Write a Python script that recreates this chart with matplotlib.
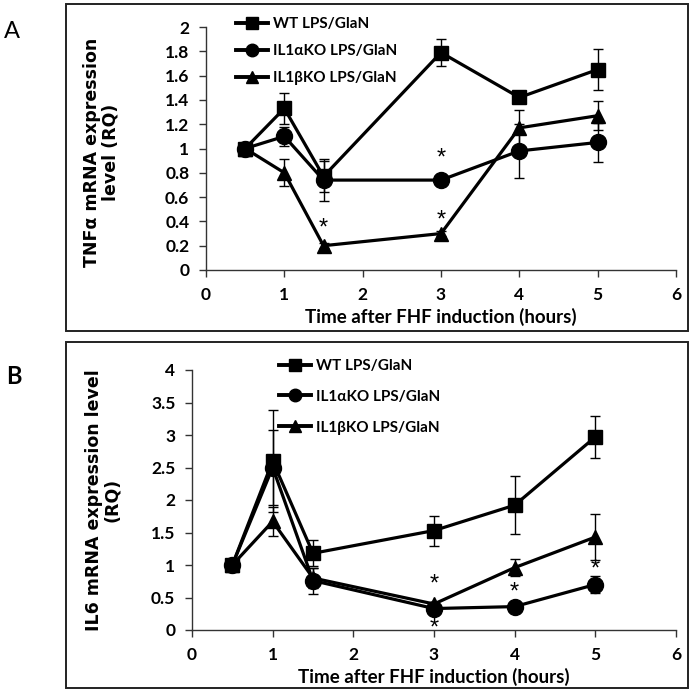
import matplotlib
matplotlib.use("Agg")
import matplotlib.pyplot as plt
from matplotlib.patches import Rectangle

plt.rcParams["font.family"] = ["Lato", "DejaVu Sans"]
plt.rcParams["font.weight"] = "bold"

# ---------------- data ----------------
hours = [0.5, 1, 1.5, 3, 4, 5]
series_labels = ["WT LPS/GlaN", "IL1\u03b1KO LPS/GlaN", "IL1\u03b2KO LPS/GlaN"]

tnf_wt = [1.0, 1.33, 0.77, 1.79, 1.42, 1.65]
tnf_wt_err = [0.03, 0.13, 0.13, 0.11, 0.03, 0.17]
tnf_a = [1.0, 1.10, 0.74, 0.74, 0.98, 1.05]
tnf_a_err = [0.03, 0.08, 0.17, 0.04, 0.22, 0.16]
tnf_b = [1.0, 0.80, 0.20, 0.30, 1.17, 1.27]
tnf_b_err = [0.03, 0.11, 0.02, 0.02, 0.15, 0.12]
tnf_star_x = [1.5, 3, 3]
tnf_star_y = [0.34, 0.92, 0.41]

il6_wt = [1.0, 2.60, 1.18, 1.53, 1.92, 2.97]
il6_wt_err = [0.05, 0.78, 0.20, 0.23, 0.45, 0.33]
il6_a = [1.0, 2.50, 0.76, 0.33, 0.36, 0.70]
il6_a_err = [0.05, 0.58, 0.20, 0.03, 0.03, 0.13]
il6_b = [1.0, 1.67, 0.80, 0.40, 0.96, 1.43]
il6_b_err = [0.05, 0.22, 0.15, 0.03, 0.13, 0.35]
il6_star_x = [3, 3, 4, 5]
il6_star_y = [0.70, 0.03, 0.57, 0.93]

xticks = [0, 1, 2, 3, 4, 5, 6]

W, H = 697, 699
fig = plt.figure(figsize=(W / 100, H / 100), dpi=100)

def fx(px):
    return px / W

def fy(py):
    return 1 - py / H

label_font = dict(family=["DejaVu Sans"], weight="bold", size=12.5)
xlabel_font = dict(family=["Lato", "DejaVu Sans"], weight="bold", size=13.5)

# panel boxes
for (x0, y0, x1, y1) in [(66, 4, 688, 331), (66, 342, 688, 688)]:
    fig.patches.append(Rectangle((fx(x0), fy(y1)), fx(x1) - fx(x0), fy(y0) - fy(y1),
                                 transform=fig.transFigure, fill=False,
                                 edgecolor="#222222", linewidth=1.4))

fig.text(fx(12), fy(31), "A", fontsize=17, weight="normal", va="center", ha="center")
fig.text(fx(14), fy(376), "B", fontsize=17, weight="bold", va="center", ha="center")

markers = ["s", "o", "^"]
msizes = [10, 11.5, 10]

def draw(ax, ys, errs, stars_x, stars_y, ylim, ystep, yticklabels, legend_px, lspace):
    handles = []
    for y, e, m, ms, lab in zip(ys, errs, markers, msizes, series_labels):
        ax.errorbar(hours, y, yerr=e, fmt="none", ecolor="black", elinewidth=1.0,
                    capsize=3.5, capthick=1.0, zorder=2)
        h, = ax.plot(hours, y, color="black", marker=m, markersize=ms, linewidth=2.3,
                     label=lab, zorder=3)
        handles.append(h)
    for sx, sy in zip(stars_x, stars_y):
        ax.text(sx, sy, "*", ha="center", va="center", fontsize=17, weight="normal",
                family=["Liberation Sans", "DejaVu Sans"])
    ax.set_xlim(0, 6)
    ax.set_ylim(*ylim)
    ax.set_xticks(xticks)
    ax.set_xticklabels([str(t) for t in xticks])
    yt = [round(ylim[0] + i * ystep, 2) for i in range(len(yticklabels))]
    ax.set_yticks(yt)
    ax.set_yticklabels(yticklabels)
    for s in ["top", "right"]:
        ax.spines[s].set_visible(False)
    for s in ["left", "bottom"]:
        ax.spines[s].set_linewidth(1.0)
        ax.spines[s].set_color("#333333")
    ax.tick_params(direction="out", length=5, width=1.0, pad=7, color="#333333",
                   labelsize=12.5)
    lx, ly = legend_px
    leg = ax.legend(handles=handles, loc="upper left",
                    bbox_to_anchor=(fx(lx), fy(ly)), bbox_transform=fig.transFigure,
                    frameon=False, handlelength=2.1, handletextpad=0.35,
                    labelspacing=lspace, borderpad=0, borderaxespad=0,
                    prop=dict(family=["Lato", "DejaVu Sans"], weight="bold", size=11))
    for h in leg.legend_handles:
        h.set_markersize(9)
        h.set_linewidth(2.8)
    return ax

def place_labels(ax, xl_px, yl_px):
    ax.xaxis.label.set_va("center")
    ax.xaxis.set_label_coords(fx(xl_px[0]), fy(xl_px[1]), transform=fig.transFigure)
    ax.yaxis.label.set_va("center")
    ax.yaxis.set_label_coords(fx(yl_px[0]), fy(yl_px[1]), transform=fig.transFigure)

axA = fig.add_axes([fx(206), fy(270), fx(676) - fx(206), fy(27) - fy(270)])
draw(axA, [tnf_wt, tnf_a, tnf_b], [tnf_wt_err, tnf_a_err, tnf_b_err],
     tnf_star_x, tnf_star_y, (0, 2), 0.2,
     ["0", "0.2", "0.4", "0.6", "0.8", "1", "1.2", "1.4", "1.6", "1.8", "2"], (236, 17), 0.85)
axA.set_xlabel("Time after FHF induction (hours)", fontdict=xlabel_font)
axA.set_ylabel("TNF\u03b1 mRNA expression\nlevel (RQ)", fontdict=label_font, linespacing=1.05)
place_labels(axA, (441, 317), (101, 152))

axB = fig.add_axes([fx(192), fy(630), fx(676) - fx(192), fy(370) - fy(630)])
draw(axB, [il6_wt, il6_a, il6_b], [il6_wt_err, il6_a_err, il6_b_err],
     il6_star_x, il6_star_y, (0, 4), 0.5,
     ["0", "0.5", "1", "1.5", "2", "2.5", "3", "3.5", "4"], (279, 359), 1.1)
axB.set_xlabel("Time after FHF induction (hours)", fontdict=xlabel_font)
axB.set_ylabel("IL6 mRNA expression level\n(RQ)", fontdict=label_font, linespacing=1.05)
place_labels(axB, (434, 677), (103, 500))

fig.savefig("out.png", dpi=100)
